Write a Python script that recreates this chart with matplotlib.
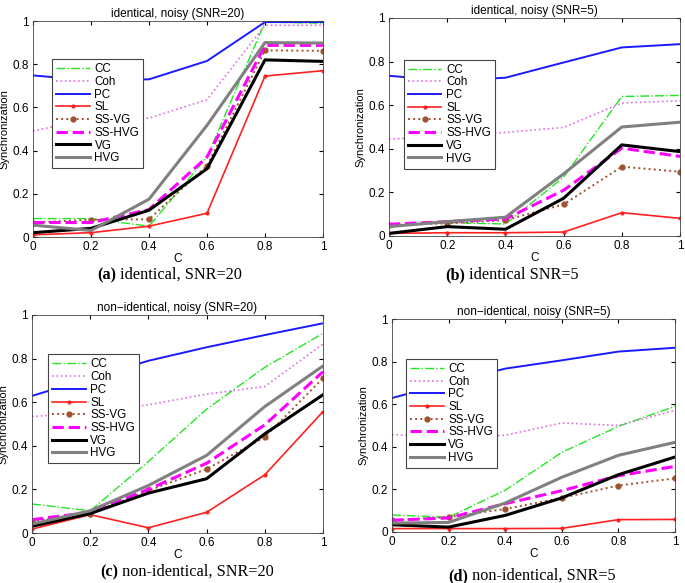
import numpy as np
import matplotlib.pyplot as plt

c_vals = [0, 0.2, 0.4, 0.6, 0.8, 1.0]
measures = ['CC', 'Coh', 'PC', 'SL', 'SS-VG', 'SS-HVG', 'VG', 'HVG']

# (a) identical, SNR=20
ident_snr20 = {
    'CC':     [0.085, 0.085, 0.05, 0.37, 0.995, 0.99],
    'Coh':    [0.49, 0.55, 0.55, 0.636, 0.98, 0.98],
    'PC':     [0.748, 0.725, 0.73, 0.815, 0.995, 0.995],
    'SL':     [0.01, 0.02, 0.05, 0.11, 0.745, 0.77],
    'SS-VG':  [0.067, 0.08, 0.082, 0.33, 0.864, 0.862],
    'SS-HVG': [0.067, 0.067, 0.127, 0.37, 0.887, 0.887],
    'VG':     [0.02, 0.04, 0.124, 0.316, 0.82, 0.813],
    'HVG':    [0.055, 0.03, 0.175, 0.517, 0.90, 0.898],
}
# (b) identical, SNR=5
ident_snr5 = {
    'CC':     [0.047, 0.061, 0.055, 0.27, 0.64, 0.645],
    'Coh':    [0.444, 0.46, 0.475, 0.498, 0.61, 0.62],
    'PC':     [0.735, 0.712, 0.726, 0.796, 0.865, 0.88],
    'SL':     [0.012, 0.015, 0.015, 0.018, 0.107, 0.081],
    'SS-VG':  [0.05, 0.058, 0.073, 0.145, 0.318, 0.295],
    'SS-HVG': [0.054, 0.066, 0.078, 0.21, 0.403, 0.365],
    'VG':     [0.012, 0.043, 0.031, 0.173, 0.418, 0.387],
    'HVG':    [0.043, 0.066, 0.086, 0.285, 0.50, 0.522],
}
# (c) non-identical, SNR=20
nonident_snr20 = {
    'CC':     [0.133, 0.102, 0.328, 0.568, 0.76, 0.916],
    'Coh':    [0.534, 0.553, 0.588, 0.637, 0.672, 0.867],
    'PC':     [0.629, 0.71, 0.79, 0.852, 0.908, 0.962],
    'SL':     [0.018, 0.084, 0.024, 0.095, 0.267, 0.557],
    'SS-VG':  [0.056, 0.089, 0.195, 0.293, 0.44, 0.71],
    'SS-HVG': [0.061, 0.095, 0.20, 0.32, 0.496, 0.74],
    'VG':     [0.031, 0.089, 0.183, 0.249, 0.455, 0.634],
    'HVG':    [0.041, 0.102, 0.218, 0.356, 0.58, 0.766],
}
# (d) non-identical, SNR=5
nonident_snr5 = {
    'CC':     [0.08, 0.069, 0.196, 0.374, 0.496, 0.59],
    'Coh':    [0.457, 0.446, 0.454, 0.512, 0.50, 0.571],
    'PC':     [0.629, 0.70, 0.767, 0.806, 0.847, 0.865],
    'SL':     [0.016, 0.016, 0.016, 0.017, 0.058, 0.059],
    'SS-VG':  [0.055, 0.07, 0.108, 0.16, 0.218, 0.252],
    'SS-HVG': [0.055, 0.066, 0.133, 0.194, 0.264, 0.308],
    'VG':     [0.034, 0.023, 0.078, 0.16, 0.269, 0.352],
    'HVG':    [0.042, 0.045, 0.136, 0.257, 0.36, 0.421],
}

titles = ['identical, noisy (SNR=20)', 'identical, noisy (SNR=5)',
          'non\u2212identical, noisy (SNR=20)', 'non\u2212identical, noisy (SNR=5)']
captions = [('(a)', ' identical, SNR=20'), ('(b)', ' identical SNR=5'),
            ('(c)', ' non-identical, SNR=20'), ('(d)', ' non-identical, SNR=5')]

styles = {
    'CC':     dict(color='#22e622', ls='-.', lw=1.0),
    'Coh':    dict(color='#e070e0', ls=':', lw=1.2),
    'PC':     dict(color='#1a1aff', ls='-', lw=1.4),
    'SL':     dict(color='#ff2020', ls='-', lw=1.2, marker='.', ms=4),
    'SS-VG':  dict(color='#a0522d', ls=':', lw=1.4, marker='o', ms=3.5),
    'SS-HVG': dict(color='#ff00ff', ls='--', lw=2.2),
    'VG':     dict(color='black', ls='-', lw=2.2),
    'HVG':    dict(color='#808080', ls='-', lw=2.2),
}

plt.rcParams['font.family'] = ['Liberation Sans', 'DejaVu Sans']
fig = plt.figure(figsize=(6.85, 5.83), dpi=100)

W, H = 685.0, 583.0
# axes boxes in pixels: left, top, right, bottom
boxes = [(33, 21, 323, 237), (389, 18, 680, 236),
         (32, 315, 323, 533), (392, 319, 675, 532)]
legend_anchor = [(0.045, 0.85), (0.03, 0.836), (0.034, 0.846), (0.028, 0.84)]
cap_pos = [(97, 275), (445, 275), (100, 572), (448, 576)]
datasets = [ident_snr20, ident_snr5, nonident_snr20, nonident_snr5]

for i, data in enumerate(datasets):
    l, t, r, b = boxes[i]
    ax = fig.add_axes([l / W, 1 - b / H, (r - l) / W, (b - t) / H])
    for m in measures:
        ax.plot(c_vals, data[m], label=m, **styles[m])
    ax.set_xlim(0, 1)
    ax.set_ylim(0, 1)
    ax.set_xticks(c_vals)
    ax.set_xticklabels(['0', '0.2', '0.4', '0.6', '0.8', '1'])
    ax.set_yticks([0, 0.2, 0.4, 0.6, 0.8, 1.0])
    ax.set_yticklabels(['0', '0.2', '0.4', '0.6', '0.8', '1'])
    ax.tick_params(direction='in', labelsize=8.5, length=3, top=True, right=True, pad=3)
    ax.set_title(titles[i], fontsize=8.5, pad=3)
    ax.set_xlabel('C', fontsize=8.5, labelpad=0)
    ax.set_ylabel('Synchronization', fontsize=8, labelpad=2)
    for sp in ax.spines.values():
        sp.set_linewidth(0.6)
        sp.set_color('#444444')
    leg = ax.legend(loc='upper left', bbox_to_anchor=legend_anchor[i], fontsize=8.4,
                    handlelength=2.9, labelspacing=0.06, borderpad=0.35,
                    handletextpad=0.4, fancybox=False, framealpha=1)
    leg.get_frame().set_edgecolor('#444444')
    leg.get_frame().set_linewidth(0.8)

    cx, cy = cap_pos[i]
    t1 = fig.text(cx / W, 1 - cy / H, captions[i][0], fontsize=11.7, fontweight='bold',
                  family=['Liberation Serif', 'DejaVu Serif'], va='center', ha='left')
    fig.canvas.draw()
    bb = t1.get_window_extent()
    fig.text(bb.x1 / W, 1 - cy / H, captions[i][1], fontsize=11.7,
             family=['Liberation Serif', 'DejaVu Serif'], va='center', ha='left')

fig.savefig('out.png', dpi=100)
